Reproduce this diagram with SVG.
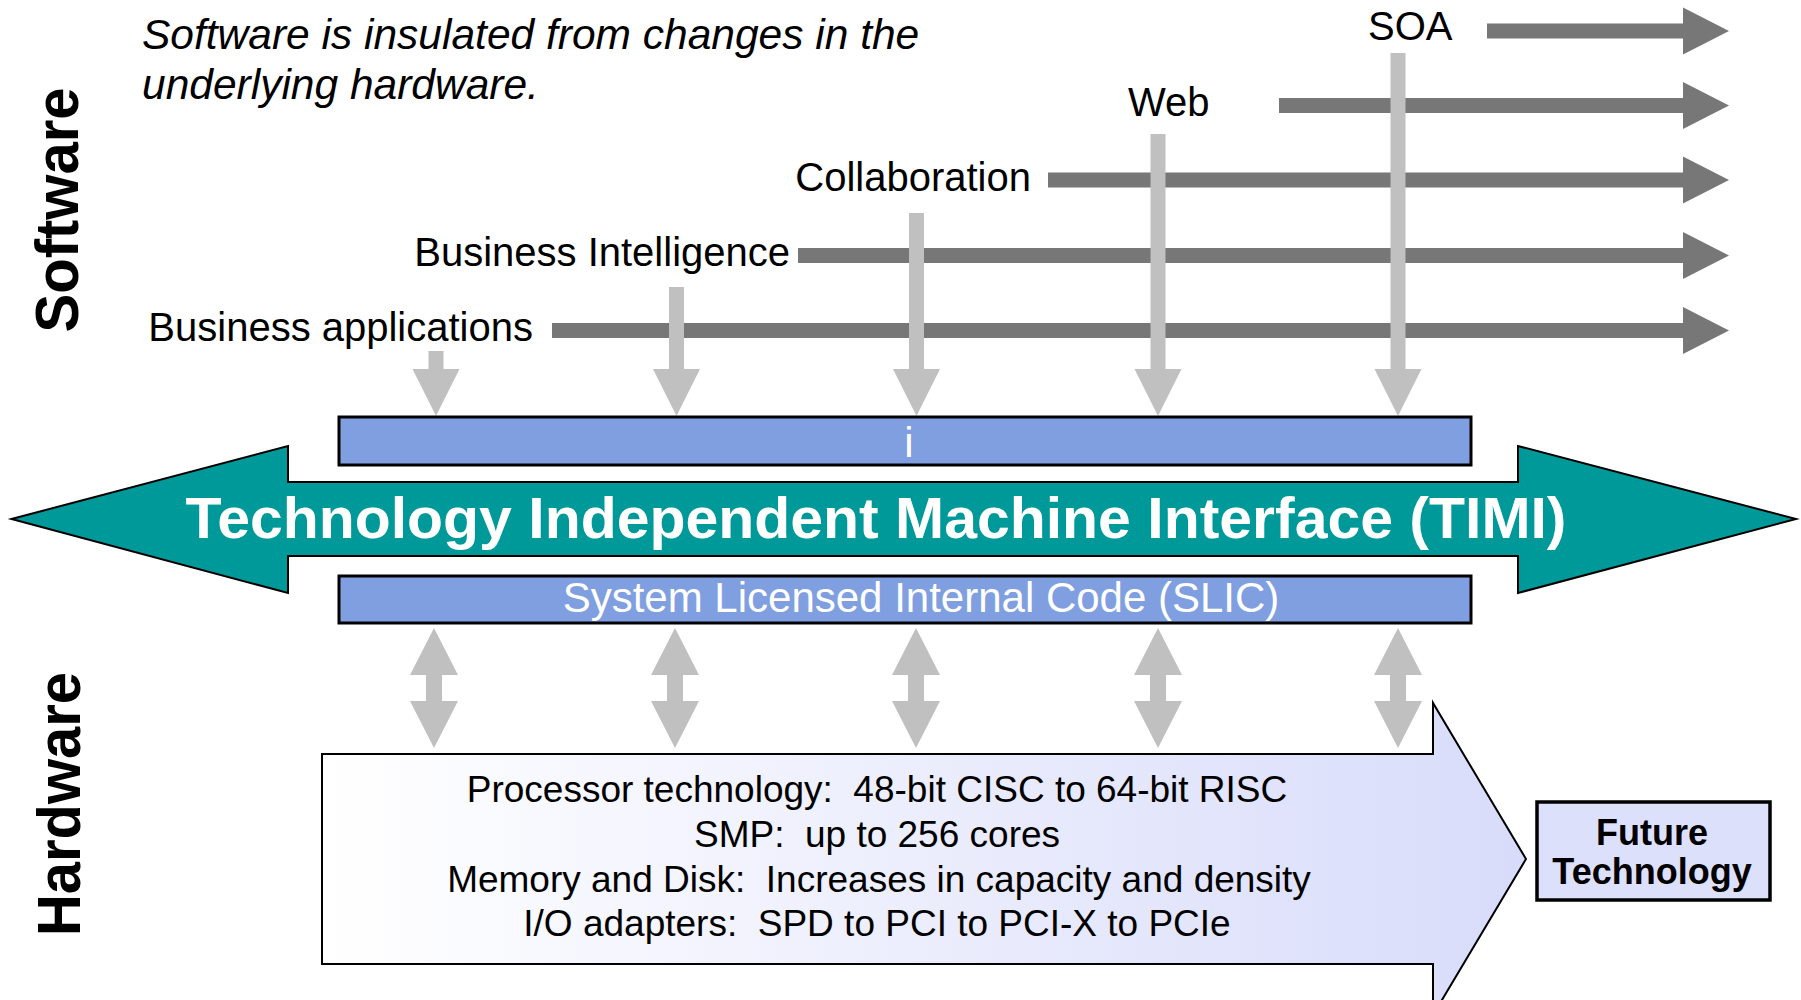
<svg xmlns="http://www.w3.org/2000/svg" width="1801" height="1000" viewBox="0 0 1801 1000">
<style>
text { font-family: "Liberation Sans", Arial, sans-serif; }
.side { font-size: 62px; font-weight: bold; fill: #000; }
.note { font-size: 42.5px; font-style: italic; fill: #000; }
.lbl { font-size: 40px; fill: #000; }
.flow { fill: #777777; }
.down { fill: #C0C0C0; }
.bar { fill: #7F9FE0; stroke: #000; stroke-width: 3; }
.barText { font-size: 42px; fill: #fff; }
.timi { fill: #009999; stroke: #000; stroke-width: 2; }
.timiText { font-size: 58px; font-weight: bold; fill: #fff; }
.hw { fill: url(#hwGrad); stroke: #000; stroke-width: 2; }
.hwText { font-size: 37px; fill: #000; white-space: pre; }
.future { fill: #DDE0FB; stroke: #000; stroke-width: 3.5; }
.futureText { font-size: 36px; font-weight: bold; fill: #000; }
</style>
<defs>
<linearGradient id="hwGrad" x1="0" y1="0" x2="1" y2="0">
<stop offset="0" stop-color="#FFFFFF"/>
<stop offset="1" stop-color="#D8DCFA"/>
</linearGradient>
</defs>

<g id="label-software"><text class="side" transform="translate(78,210) rotate(-90)" text-anchor="middle" textLength="245" lengthAdjust="spacingAndGlyphs">Software</text></g>
<g id="label-hardware"><text class="side" transform="translate(80,804) rotate(-90)" text-anchor="middle" textLength="264" lengthAdjust="spacingAndGlyphs">Hardware</text></g>

<g id="note">
<text class="note" x="142" y="49">Software is insulated from changes in the</text>
<text class="note" x="142" y="99">underlying hardware.</text>
</g>

<g id="connectors">
<polygon class="flow" points="1487,23.5 1683,23.5 1683,7.5 1729,31 1683,54.5 1683,38.5 1487,38.5"/>
<polygon class="flow" points="1279,98 1683,98 1683,82 1729,105.5 1683,129 1683,113 1279,113"/>
<polygon class="flow" points="1048,172.5 1683,172.5 1683,156.5 1729,180 1683,203.5 1683,187.5 1048,187.5"/>
<polygon class="flow" points="798,248 1683,248 1683,232 1729,255.5 1683,279 1683,263 798,263"/>
<polygon class="flow" points="552,323 1683,323 1683,307 1729,330.5 1683,354 1683,338 552,338"/>

<polygon class="down" points="428.5,351 443.5,351 443.5,369 459.5,369 436,416 412.5,369 428.5,369"/>
<polygon class="down" points="669,287 684,287 684,369 700,369 676.5,416 653,369 669,369"/>
<polygon class="down" points="909,213 924,213 924,369 940,369 916.5,416 893,369 909,369"/>
<polygon class="down" points="1150.5,134 1165.5,134 1165.5,369 1181.5,369 1158,416 1134.5,369 1150.5,369"/>
<polygon class="down" points="1390.5,53 1405.5,53 1405.5,369 1421.5,369 1398,416 1374.5,369 1390.5,369"/>

<polygon class="down" points="434,628 458,675 442,675 442,701 458,701 434,748 410,701 426,701 426,675 410,675"/>
<polygon class="down" points="675,628 699,675 683,675 683,701 699,701 675,748 651,701 667,701 667,675 651,675"/>
<polygon class="down" points="916,628 940,675 924,675 924,701 940,701 916,748 892,701 908,701 908,675 892,675"/>
<polygon class="down" points="1158,628 1182,675 1166,675 1166,701 1182,701 1158,748 1134,701 1150,701 1150,675 1134,675"/>
<polygon class="down" points="1398,628 1422,675 1406,675 1406,701 1422,701 1398,748 1374,701 1390,701 1390,675 1374,675"/>
</g>

<g id="sw-business-applications"><text class="lbl" x="533" y="341" text-anchor="end">Business applications</text></g>
<g id="sw-business-intelligence"><text class="lbl" x="790" y="266" text-anchor="end">Business Intelligence</text></g>
<g id="sw-collaboration"><text class="lbl" x="1031" y="191" text-anchor="end">Collaboration</text></g>
<g id="sw-web"><text class="lbl" x="1128" y="116">Web</text></g>
<g id="sw-soa"><text class="lbl" x="1368" y="40">SOA</text></g>

<g id="bar-i">
<rect class="bar" x="339" y="417" width="1132" height="48"/>
<text class="barText" x="909" y="457" text-anchor="middle">i</text>
</g>

<g id="timi">
<polygon class="timi" points="11.5,519 288,446 288,482 1518,482 1518,446 1796,519 1518,593 1518,556 288,556 288,593"/>
<text class="timiText" x="876" y="538" text-anchor="middle" textLength="1381" lengthAdjust="spacingAndGlyphs">Technology Independent Machine Interface (TIMI)</text>
</g>

<g id="bar-slic">
<rect class="bar" x="339" y="576" width="1132" height="47"/>
<text class="barText" x="921" y="612" text-anchor="middle">System Licensed Internal Code (SLIC)</text>
</g>

<g id="hardware">
<polygon class="hw" points="322,754 1433,754 1433,703 1526,859 1433,1015 1433,964 322,964"/>
<text class="hwText" x="877" y="802" text-anchor="middle">Processor technology:  48-bit CISC to 64-bit RISC</text>
<text class="hwText" x="877" y="847" text-anchor="middle">SMP:  up to 256 cores</text>
<text class="hwText" x="879" y="892" text-anchor="middle">Memory and Disk:  Increases in capacity and density</text>
<text class="hwText" x="877" y="936" text-anchor="middle">I/O adapters:  SPD to PCI to PCI-X to PCIe</text>
</g>

<g id="future-technology">
<rect class="future" x="1537" y="802" width="233" height="98"/>
<text class="futureText" x="1652" y="845" text-anchor="middle">Future</text>
<text class="futureText" x="1652" y="884" text-anchor="middle">Technology</text>
</g>
</svg>
